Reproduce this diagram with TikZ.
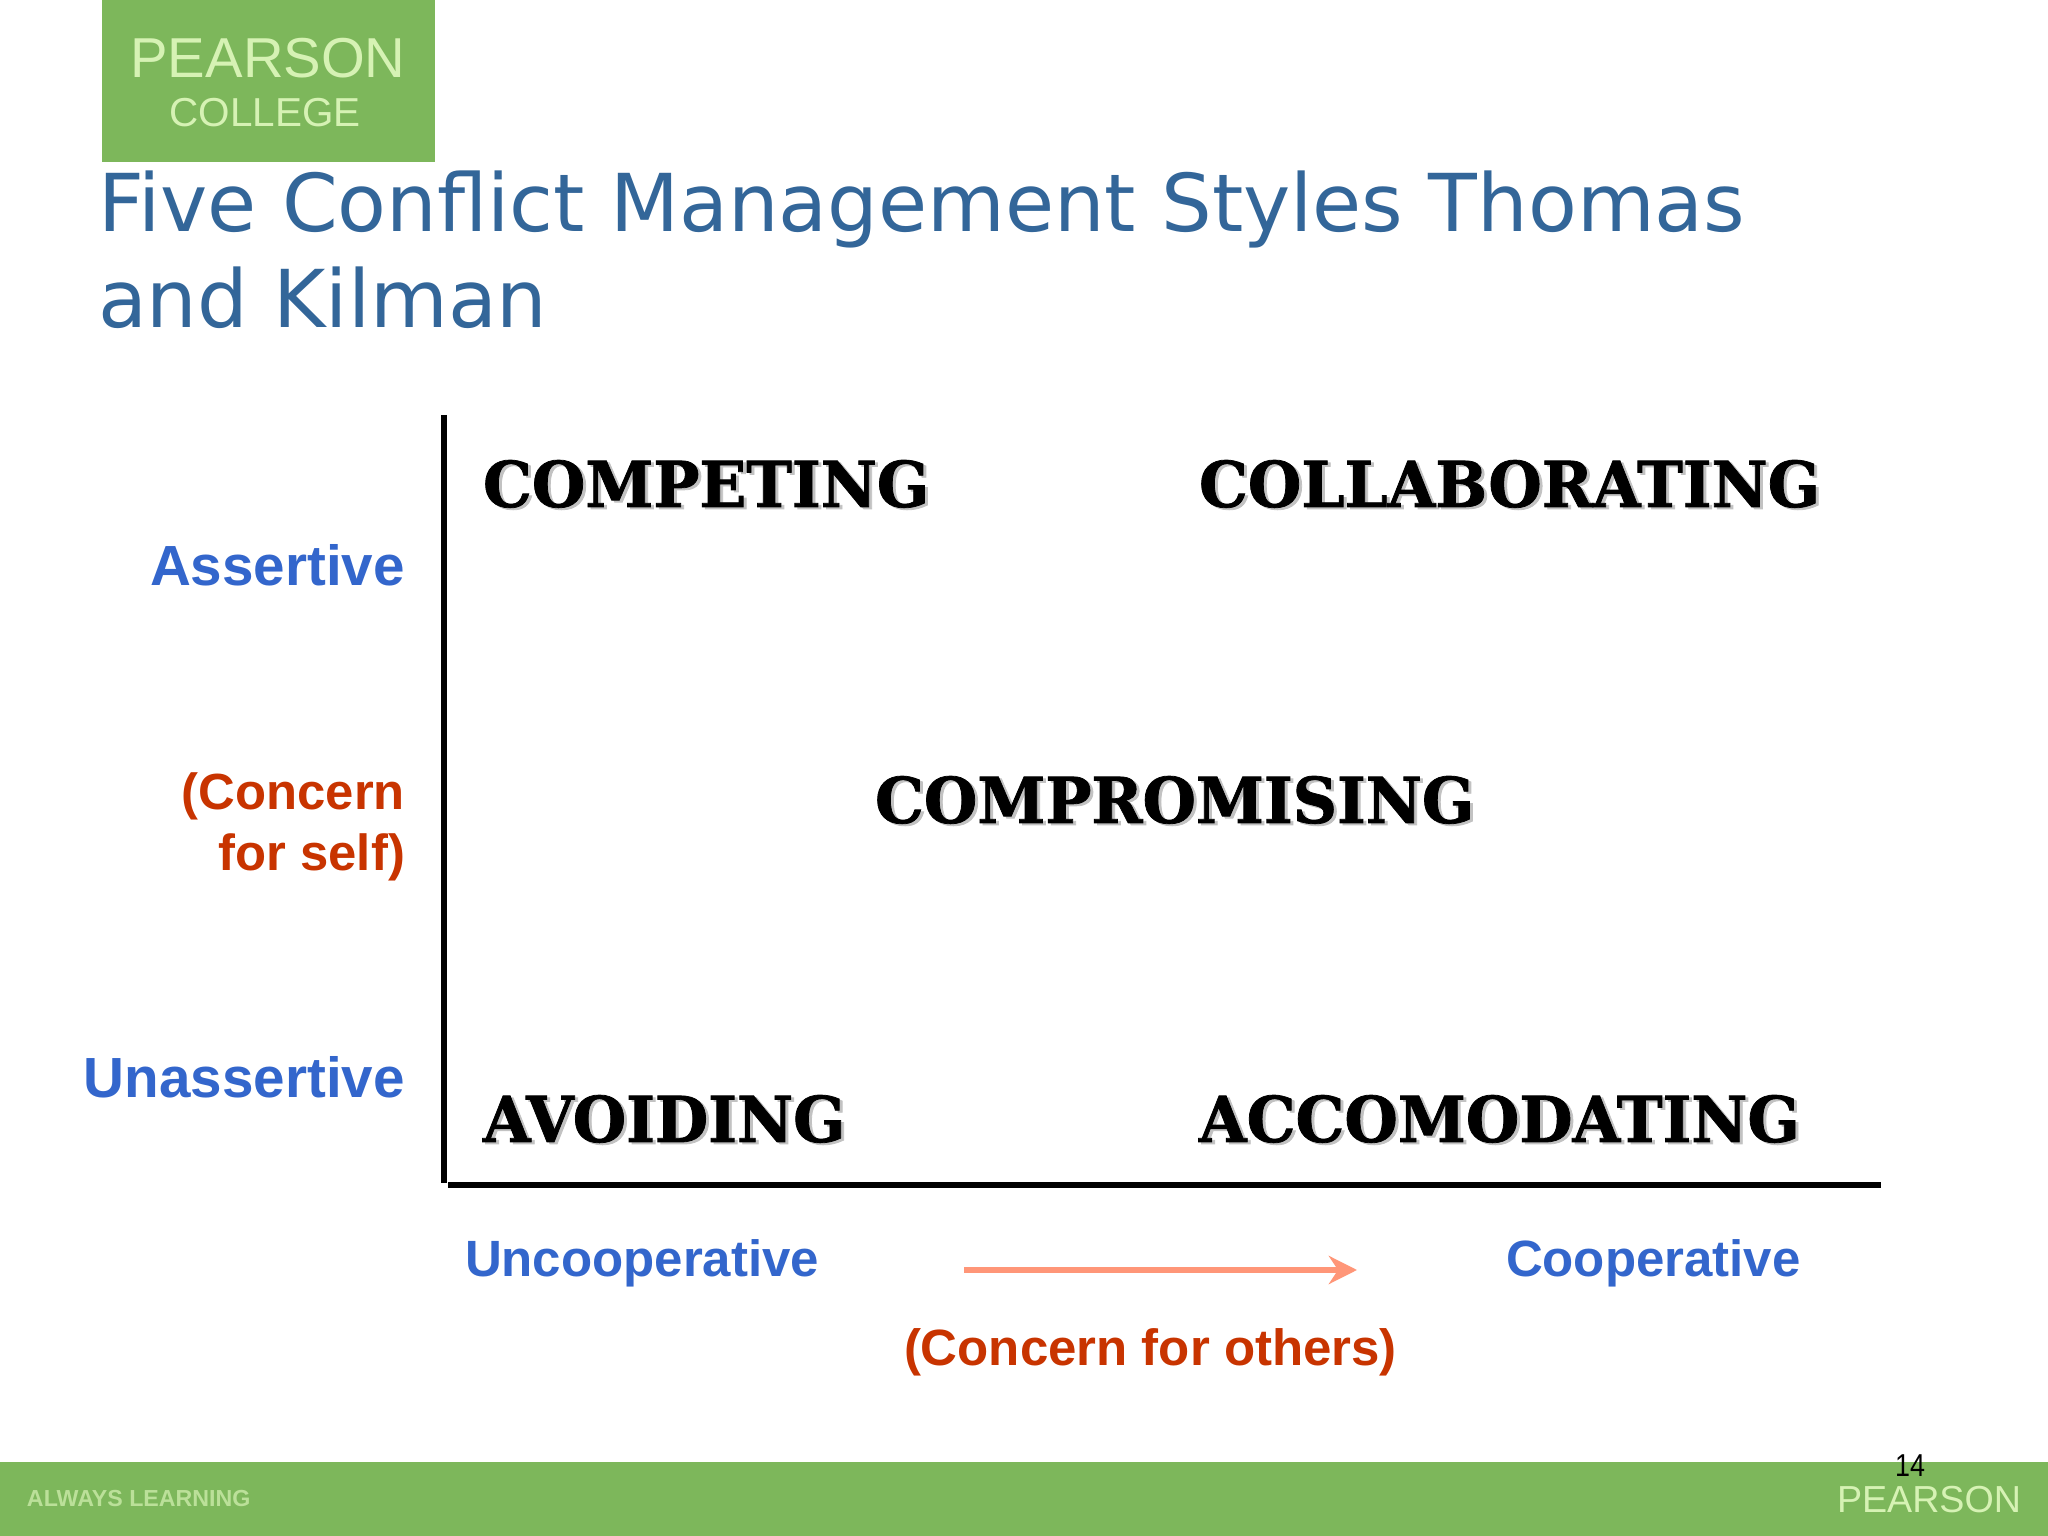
\documentclass[tikz,border=0pt]{standalone}
\usepackage{fontspec}
\setmainfont{Liberation Sans}
\newfontfamily\titlefont{DejaVu Sans}
\newfontfamily\slabfont[BoldFeatures={FakeBold=1.2,FakeStretch=0.97}]{DejaVu Serif}
\usetikzlibrary{arrows.meta}
\definecolor{pearsongreen}{HTML}{7DB75B}
\definecolor{logotext}{HTML}{D6F2B4}
\definecolor{titleblue}{HTML}{336699}
\definecolor{axisblue}{HTML}{3366CC}
\definecolor{concernred}{HTML}{C83400}
\definecolor{arrowsalmon}{HTML}{FF9678}
\tikzset{
  inner sep=0pt, outer sep=0pt,
  stylename/.style={anchor=base west, font=\slabfont\bfseries\fontsize{18}{22}\selectfont},
  styleshadow/.style={stylename, text=black!24},
  axisname/.style={anchor=base west, text=axisblue, font=\bfseries\fontsize{14.5}{17}\selectfont},
  sidename/.style={anchor=base east, align=right, text=axisblue, font=\bfseries\fontsize{16.1}{17.4}\selectfont},
  concernname/.style={sidename, text=concernred, font=\bfseries\fontsize{14.45}{17.4}\selectfont},
  axisline/.style={line width=1.7pt},
}
\begin{document}
\begin{tikzpicture}[x=0.01cm, y=0.01cm]
\useasboundingbox (0,0) rectangle (2048,1536);
\fill[white] (0,0) rectangle (2048,1536);
\node[fill=pearsongreen, minimum width=3.33cm, minimum height=1.62cm, anchor=north west] (logobox) at (102,1536){};
\node[anchor=base, text=logotext, font=\fontsize{16}{20}\selectfont] (logotop) at (268,1458){PEARSON};
\node[anchor=base, text=logotext, font=\fontsize{11.5}{13}\selectfont] (logobottom) at (265,1409){COLLEGE};
\node[anchor=north west, align=left, text=titleblue, font=\titlefont\fontsize{22.7}{27.3}\selectfont] (title) at (98,1365){Five Conflict Management Styles Thomas\\and Kilman};
\coordinate (axistop) at (444,1121);
\coordinate (axiscorner) at (444,353);
\coordinate (axisstart) at (448,351);
\coordinate (axisend) at (1881,351);
\draw[axisline](axistop) -- (axiscorner);
\draw[axisline](axisstart) -- (axisend);
\node[styleshadow] (competingshadow) at (486,1027){COMPETING};
\node[stylename] (competing) at (483,1029){COMPETING};
\node[styleshadow] (collaboratingshadow) at (1202,1027){COLLABORATING};
\node[stylename] (collaborating) at (1199,1029){COLLABORATING};
\node[styleshadow] (compromisingshadow) at (878,711){COMPROMISING};
\node[stylename] (compromising) at (875,713){COMPROMISING};
\node[styleshadow] (avoidingshadow) at (486,392){AVOIDING};
\node[stylename] (avoiding) at (483,394){AVOIDING};
\node[styleshadow] (accomodatingshadow) at (1202,392){ACCOMODATING};
\node[stylename] (accomodating) at (1199,394){ACCOMODATING};
\node[sidename] (assertive) at (405,950){Assertive};
\node[concernname] (concernself) at (405,665){(Concern\\for self)};
\node[sidename] (unassertive) at (405,438){Unassertive};
\node[axisname] (uncooperative) at (465,259){Uncooperative};
\node[axisname] (cooperative) at (1506,259){Cooperative};
\node[axisname, text=concernred] (concernothers) at (904,170){(Concern for others)};
\coordinate (arrowstart) at (964,266);
\coordinate (arrowend) at (1357,266);
\draw[-{Stealth[length=8pt,width=8pt]}, line width=1.6pt, arrowsalmon](arrowstart) -- (arrowend);
\node[fill=pearsongreen, minimum width=20.48cm, minimum height=0.74cm, anchor=south west] (footer) at (0,0){};
\node[anchor=base, xscale=0.85, font=\fontsize{9}{10}\selectfont] (pagenumber) at (1910,59){14};
\node[anchor=base east, text=logotext, font=\fontsize{10.7}{13}\selectfont] (footerlogo) at (2021,24){PEARSON};
\node[anchor=base west, text=logotext!70!pearsongreen, font=\bfseries\fontsize{6.6}{8}\selectfont] (footertext) at (27,30){ALWAYS LEARNING};
\end{tikzpicture}
\end{document}
